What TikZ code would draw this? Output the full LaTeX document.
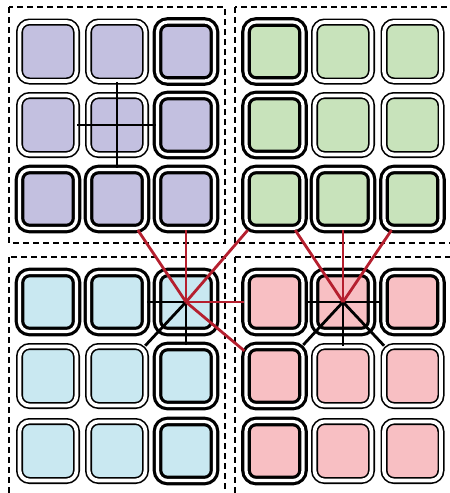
\documentclass[tikz,border=0pt]{standalone}
\usepackage{tikz}
\definecolor{lav}{HTML}{C3C0E0}
\definecolor{grn}{HTML}{C8E3BB}
\definecolor{blu}{HTML}{C9E8F1}
\definecolor{pnk}{HTML}{F8BFC3}
\definecolor{redl}{HTML}{B51F2E}
\tikzset{
  cellbase/.style={rectangle, rounded corners=10pt, minimum width=57pt, minimum height=59pt, inner sep=0pt, draw=black, double=white},
  thincell/.style={cellbase, line width=1.6pt, double distance=3.8pt},
  thickcell/.style={cellbase, line width=3.2pt, double distance=3.2pt},
  groupbox/.style={draw=black, line width=1.2pt, dash pattern=on 6pt off 4pt},
  blk/.style={draw=black, line width=2.8pt},
  rdl/.style={draw=redl, line width=2.8pt},
}
\begin{document}
\begin{tikzpicture}[x=1pt,y=-1pt]
\useasboundingbox (0,0) rectangle (450,493);
% group boxes
\draw[groupbox] (9,7) rectangle (225,243);
\draw[groupbox] (235,7) rectangle (470,243);
\draw[groupbox] (9,257) rectangle (225,515);
\draw[groupbox] (235,257) rectangle (470,515);
% top-left (lavender)
\node[thincell,fill=lav]  (a11) at (48,51.5) {};
\node[thincell,fill=lav]  (a21) at (117,51.5) {};
\node[thickcell,fill=lav] (a31) at (186,51.5) {};
\node[thincell,fill=lav]  (a12) at (48,125) {};
\node[thincell,fill=lav]  (a22) at (117,125) {};
\node[thickcell,fill=lav] (a32) at (186,125) {};
\node[thickcell,fill=lav] (a13) at (48,199) {};
\node[thickcell,fill=lav] (a23) at (117,199) {};
\node[thickcell,fill=lav] (a33) at (186,199) {};
% top-right (green)
\node[thickcell,fill=grn] (b11) at (274.5,51.5) {};
\node[thincell,fill=grn]  (b21) at (343,51.5) {};
\node[thincell,fill=grn]  (b31) at (412.5,51.5) {};
\node[thickcell,fill=grn] (b12) at (274.5,125) {};
\node[thincell,fill=grn]  (b22) at (343,125) {};
\node[thincell,fill=grn]  (b32) at (412.5,125) {};
\node[thickcell,fill=grn] (b13) at (274.5,199) {};
\node[thickcell,fill=grn] (b23) at (343,199) {};
\node[thickcell,fill=grn] (b33) at (412.5,199) {};
% bottom-left (blue)
\node[thickcell,fill=blu] (c11) at (48,302) {};
\node[thickcell,fill=blu] (c21) at (117,302) {};
\node[thickcell,fill=blu] (c31) at (186,302) {};
\node[thincell,fill=blu]  (c12) at (48,376) {};
\node[thincell,fill=blu]  (c22) at (117,376) {};
\node[thickcell,fill=blu] (c32) at (186,376) {};
\node[thincell,fill=blu]  (c13) at (48,451) {};
\node[thincell,fill=blu]  (c23) at (117,451) {};
\node[thickcell,fill=blu] (c33) at (186,451) {};
% bottom-right (pink)
\node[thickcell,fill=pnk] (d11) at (274.5,302) {};
\node[thickcell,fill=pnk] (d21) at (343,302) {};
\node[thickcell,fill=pnk] (d31) at (412.5,302) {};
\node[thickcell,fill=pnk] (d12) at (274.5,376) {};
\node[thincell,fill=pnk]  (d22) at (343,376) {};
\node[thincell,fill=pnk]  (d32) at (412.5,376) {};
\node[thickcell,fill=pnk] (d13) at (274.5,451) {};
\node[thincell,fill=pnk]  (d23) at (343,451) {};
\node[thincell,fill=pnk]  (d33) at (412.5,451) {};
% black connectors
\draw[blk] (a12) -- (a32);
\draw[blk] (a21) -- (a23);
\draw[blk] (c31.center) -- (c21);
\draw[blk] (c31.center) -- (c32);
\draw[blk] (c31.center) -- (c22);
\draw[blk] (d21.center) -- (d11);
\draw[blk] (d21.center) -- (d31);
\draw[blk] (d21.center) -- (d22);
\draw[blk] (d21.center) -- (d12);
\draw[blk] (d21.center) -- (d32);
% red connectors
\draw[rdl] (a23) -- (c31.center);
\draw[rdl] (a33) -- (c31.center);
\draw[rdl] (b13) -- (c31.center);
\draw[rdl] (c31.center) -- (d11);
\draw[rdl] (c31.center) -- (d12);
\draw[rdl] (b13) -- (d21.center);
\draw[rdl] (b23) -- (d21.center);
\draw[rdl] (b33) -- (d21.center);
\end{tikzpicture}
\end{document}
